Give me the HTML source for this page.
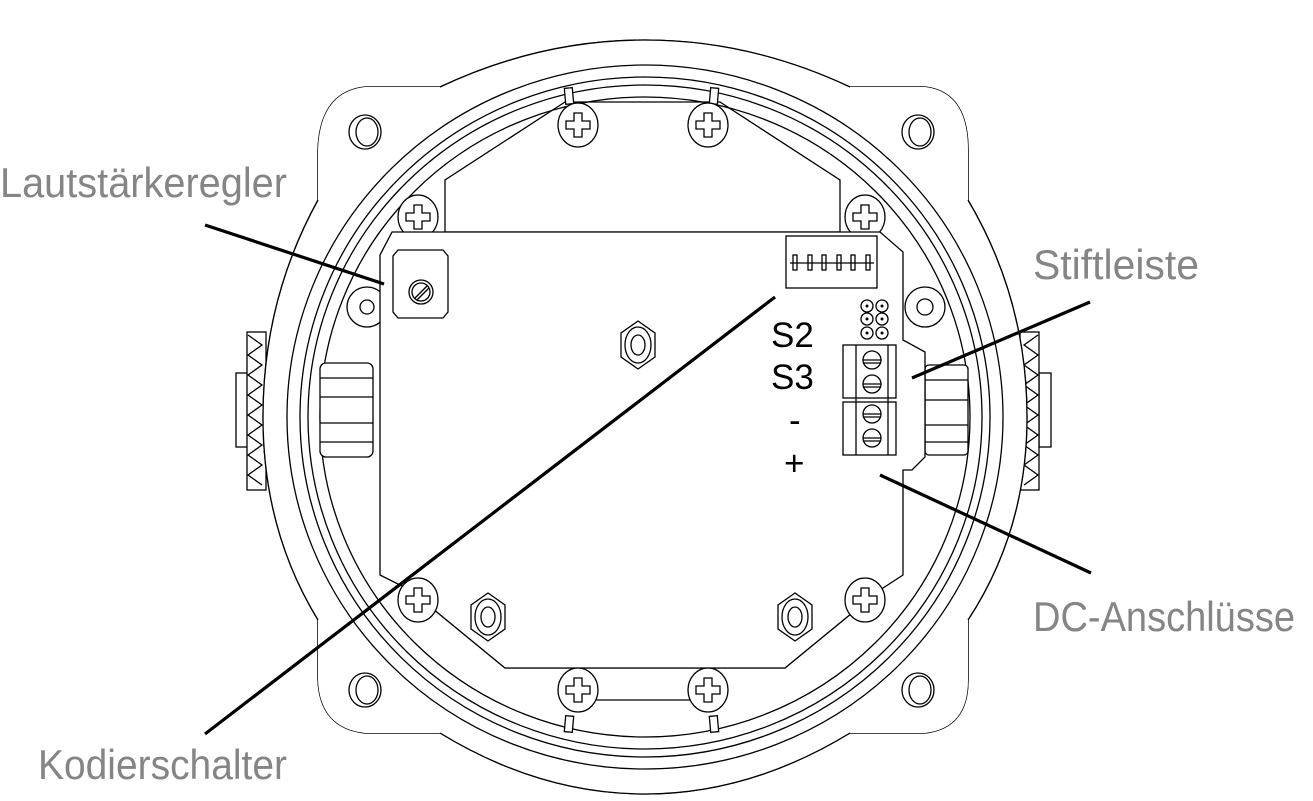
<!DOCTYPE html>
<html><head><meta charset="utf-8"><style>
html,body{margin:0;padding:0;background:#fff;}
svg{display:block;}
.l{fill:none;stroke:#000;stroke-width:1.3;}
.w{fill:#fff;stroke:#000;stroke-width:1.3;}
.lead{stroke:#000;stroke-width:3.2;fill:none;}
.lab{font-family:"Liberation Sans Narrow","Liberation Sans",sans-serif;font-size:42px;fill:#858585;}
.pcb{font-family:"Liberation Sans",sans-serif;font-size:35px;fill:#000;}
</style></head><body>
<svg width="1313" height="801" viewBox="0 0 1313 801" xmlns="http://www.w3.org/2000/svg">
<defs>
<g id="scr"><ellipse cx="0" cy="0" rx="20" ry="22" class="w"/><path class="w" d="M-4,-12 h8 v8 h8 v8 h-8 v8 h-8 v-8 h-8 v-8 h8z"/></g>
<g id="nut"><path class="w" d="M0,-24 L17,-12 L17,12 L0,24 L-17,12 L-17,-12Z"/><ellipse cx="0" cy="0" rx="13" ry="18" class="l"/><ellipse cx="0" cy="0" rx="7" ry="10" class="l"/></g>
<g id="hole"><ellipse cx="0" cy="0" rx="16" ry="17" class="l"/><ellipse cx="2" cy="0" rx="11" ry="14" class="l"/></g>
<g id="tscr"><circle r="9" class="w"/><line x1="-9" y1="0" x2="9" y2="0" class="l"/><line x1="-9" y1="3" x2="9" y2="3" class="l"/></g>
</defs>
<!-- knurls -->
<rect x="236" y="373" width="12" height="74" class="w"/>
<rect x="247" y="332" width="19" height="158" class="w"/>
<path class="l" d="M248,335 L262,345 L248,355 L262,365 L248,375 L262,385 L248,395 L262,405 L248,415 L262,425 L248,435 L262,445 L248,455 L262,465 L248,475 L262,485"/>
<rect x="1039" y="373" width="12" height="74" class="w"/>
<rect x="1020" y="332" width="19" height="158" class="w"/>
<path class="l" d="M1038,335 L1024,345 L1038,355 L1024,365 L1038,375 L1024,385 L1038,395 L1024,405 L1038,415 L1024,425 L1038,435 L1024,445 L1038,455 L1024,465 L1038,475 L1024,485"/>
<!-- flange (behind circle) -->
<path class="w" d="M365,87 L925,87 Q968,92 968,150 L968,680 Q968,728 925,733 L365,733 Q320,728 318,680 L318,150 Q320,92 365,87 Z"/>
<use href="#hole" x="365" y="132"/><use href="#hole" x="918" y="132"/>
<use href="#hole" x="365" y="690"/><use href="#hole" x="918" y="690"/>
<!-- outer body circle -->
<path class="w" d="M440,87 Q540,40 645,40 Q750,40 850,87 L925,87 Q968,92 968,150 L968,200 Q1027,300 1027,417 Q1027,530 968,620 L968,680 Q968,728 925,733 L850,733 Q750,794 645,794 Q540,794 440,733 L365,733 Q320,728 318,680 L318,620 Q263,530 263,417 Q263,300 318,200 L318,150 Q320,92 365,87 Z" style="fill:none"/>
<path class="w" d="M318,200 Q263,300 263,417 Q263,530 318,620 L318,680 Q320,728 365,733 L440,733 Q540,794 645,794 Q750,794 850,733 L925,733 Q968,728 968,680 L968,620 Q1027,530 1027,417 Q1027,300 968,200 L968,150 Q968,92 925,87 L850,87 Q750,40 645,40 Q540,40 440,87 L365,87 Q320,92 318,150 Z" style="stroke:none"/>
<use href="#hole" x="365" y="132"/><use href="#hole" x="918" y="132"/>
<use href="#hole" x="365" y="690"/><use href="#hole" x="918" y="690"/>
<path class="l" d="M318,200 Q263,300 263,417 Q263,530 318,620"/>
<path class="l" d="M968,200 Q1027,300 1027,417 Q1027,530 968,620"/>
<path class="l" d="M440,87 Q540,40 645,40 Q750,40 850,87"/>
<path class="l" d="M440,733 Q540,794 645,794 Q750,794 850,733"/>
<ellipse cx="645" cy="417" rx="358" ry="352" class="w"/>
<ellipse cx="645" cy="417" rx="345" ry="340" class="l"/>
<ellipse cx="645" cy="417" rx="337" ry="332" class="l"/>
<ellipse cx="645" cy="417" rx="325" ry="320" class="l"/>
<!-- inner mounting octagon -->
<path class="l" d="M565,102 L720,102 L840,180 L840,232 L445,232 L445,180 Z"/>
<path class="l" d="M505,668 L785,668 L880,590 L410,590 Z"/>
<path class="l" d="M565,700 L720,700"/>
<rect x="565" y="88" width="8" height="16" class="w" transform="rotate(-5 569 96)"/>
<rect x="710" y="88" width="8" height="16" class="w" transform="rotate(5 714 96)"/>
<rect x="565" y="716" width="8" height="16" class="w" transform="rotate(5 569 724)"/>
<rect x="710" y="716" width="8" height="16" class="w" transform="rotate(-5 714 724)"/>
<!-- gland left/right -->
<rect x="320" y="363" width="53" height="94" rx="6" class="w"/>
<line x1="320" y1="378" x2="373" y2="378" class="l"/><line x1="320" y1="397" x2="373" y2="397" class="l"/>
<line x1="320" y1="423" x2="373" y2="423" class="l"/><line x1="320" y1="442" x2="373" y2="442" class="l"/>
<rect x="925" y="365" width="43" height="90" rx="4" class="w"/>
<line x1="925" y1="380" x2="968" y2="380" class="l"/><line x1="925" y1="400" x2="968" y2="400" class="l"/>
<line x1="925" y1="425" x2="968" y2="425" class="l"/><line x1="925" y1="442" x2="968" y2="442" class="l"/>
<!-- screws top/side -->
<use href="#scr" x="578" y="125"/><use href="#scr" x="708" y="125"/>
<use href="#scr" x="418" y="217"/><use href="#scr" x="865" y="217"/>
<!-- side lugs -->
<circle cx="367" cy="307" r="20" class="w"/><circle cx="367" cy="307" r="7" class="l"/>
<circle cx="925" cy="307" r="20" class="w"/><circle cx="925" cy="307" r="8" class="l"/>
<!-- PCB -->
<path class="w" d="M392,232 L880,232 L903,252 L903,340 L925,352 L925,457 L912,470 L903,470 L903,575 L880,590 L785,668 L505,668 L410,590 L380,575 L380,255 Z"/>
<!-- pot -->
<path class="w" d="M398,250 L443,250 L448,256 L448,312 L443,318 L398,318 L393,312 L393,256 Z"/>
<circle cx="421" cy="292" r="12" class="w"/><circle cx="421" cy="292" r="9" class="l"/>
<line x1="415" y1="298" x2="427" y2="286" class="l"/><line x1="417" y1="300" x2="429" y2="288" class="l"/>
<!-- nuts -->
<use href="#nut" x="638" y="345"/><use href="#nut" x="488" y="617"/><use href="#nut" x="795" y="617"/>
<!-- bottom screws -->
<use href="#scr" x="578" y="690"/><use href="#scr" x="708" y="690"/>
<use href="#scr" x="418" y="600"/><use href="#scr" x="865" y="600"/>
<!-- DIP -->
<rect x="786" y="236" width="91" height="52" class="w"/>
<g class="l">
<rect x="793" y="255" width="4" height="15"/><rect x="808" y="255" width="4" height="15"/><rect x="822" y="255" width="4" height="15"/>
<rect x="837" y="255" width="4" height="15"/><rect x="851" y="255" width="4" height="15"/><rect x="866" y="255" width="4" height="15"/>
<line x1="790" y1="263" x2="874" y2="263"/>
</g>
<!-- pin header -->
<g class="l">
<circle cx="867" cy="306" r="6"/><circle cx="882" cy="306" r="6"/>
<circle cx="867" cy="319" r="6"/><circle cx="882" cy="319" r="6"/>
<circle cx="867" cy="333" r="6"/><circle cx="882" cy="333" r="6"/>
</g>
<g fill="#000"><circle cx="867" cy="306" r="1.5"/><circle cx="882" cy="306" r="1.5"/><circle cx="867" cy="319" r="1.5"/><circle cx="882" cy="319" r="1.5"/><circle cx="867" cy="333" r="1.5"/><circle cx="882" cy="333" r="1.5"/></g>
<!-- terminal blocks -->
<rect x="843" y="345" width="53" height="53" class="w"/><rect x="843" y="402" width="53" height="53" class="w"/>
<line x1="856" y1="345" x2="856" y2="455" class="l"/><line x1="888" y1="345" x2="888" y2="455" class="l"/>
<use href="#tscr" x="872" y="360"/><use href="#tscr" x="872" y="384"/>
<use href="#tscr" x="872" y="414"/><use href="#tscr" x="872" y="438"/>
<!-- pcb labels -->
<text class="pcb" x="771" y="347">S2</text>
<text class="pcb" x="771" y="389">S3</text>
<text class="pcb" x="789" y="432">-</text>
<text class="pcb" x="784" y="475">+</text>
<!-- leaders -->
<line class="lead" x1="205" y1="225" x2="384" y2="284"/>
<line class="lead" x1="775" y1="297" x2="205" y2="734"/>
<line class="lead" x1="1090" y1="302" x2="912" y2="378"/>
<line class="lead" x1="880" y1="475" x2="1091" y2="573"/>
<!-- labels -->
<text class="lab" x="0" y="197" textLength="287" lengthAdjust="spacingAndGlyphs">Lautstärkeregler</text>
<text class="lab" x="38" y="779" textLength="249" lengthAdjust="spacingAndGlyphs">Kodierschalter</text>
<text class="lab" x="1033" y="279" textLength="166" lengthAdjust="spacingAndGlyphs">Stiftleiste</text>
<text class="lab" x="1033" y="631" textLength="262" lengthAdjust="spacingAndGlyphs">DC-Anschlüsse</text>
</svg>
</body></html>
